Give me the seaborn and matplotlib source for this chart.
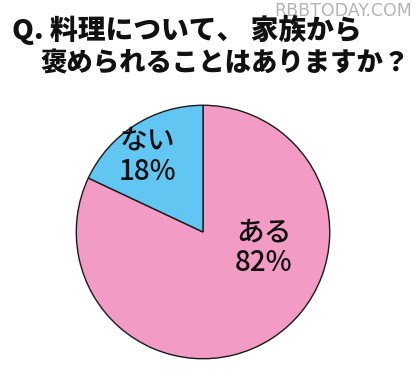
import matplotlib
matplotlib.use("Agg")
import matplotlib.pyplot as plt
import seaborn as sns

# data
labels = ["ある", "ない"]
shares = [82, 18]
colors = ["#F29BC4", "#62C6F2"]

sns.set_theme(style="white")
plt.rcParams["font.family"] = ["Noto Sans CJK JP", "DejaVu Sans"]

fig = plt.figure(figsize=(4.19, 3.69), dpi=100)
fig.patch.set_facecolor("white")

# pie axes: centre ~(203, 232) px, radius ~128 px
W, H = 419, 369
cx, cy, r = 203, 232, 128
ax = fig.add_axes([(cx - r) / W, (H - cy - r) / H, 2 * r / W, 2 * r / H])

wedges, _ = ax.pie(shares, colors=colors, startangle=90, counterclock=False,
                   wedgeprops=dict(edgecolor="#1a1a1a", linewidth=1.0))
ax.set_xlim(-1.01, 1.01)
ax.set_ylim(-1.01, 1.01)
ax.set_aspect("equal")
ax.axis("off")

# slice labels
label_pos = {"ある": (0.48, -0.12), "ない": (-0.44, 0.60)}
for lab, val in zip(labels, shares):
    x, y = label_pos[lab]
    ax.text(x, y, f"{lab}\n{val}%", ha="center", va="center",
            fontsize=20, fontweight="medium", color="#111111", linespacing=1.1)

# watermark (behind title)
fig.text(412 / W, 1 - 11 / H, "RBBTODAY.COM", ha="right", va="center",
         fontsize=12.5, color="#b4b4b4", family=["DejaVu Sans"], zorder=1)

# title
fig.text(12 / W, 1 - 30 / H, "Q. 料理について、 家族から", ha="left", va="center",
         fontsize=20, fontweight="black", color="#111111", zorder=2)
fig.text(40 / W, 1 - 63 / H, "褒められることはありますか？", ha="left", va="center",
         fontsize=19, fontweight="black", color="#111111", zorder=2)

fig.savefig("out.png", dpi=100, facecolor="white")
